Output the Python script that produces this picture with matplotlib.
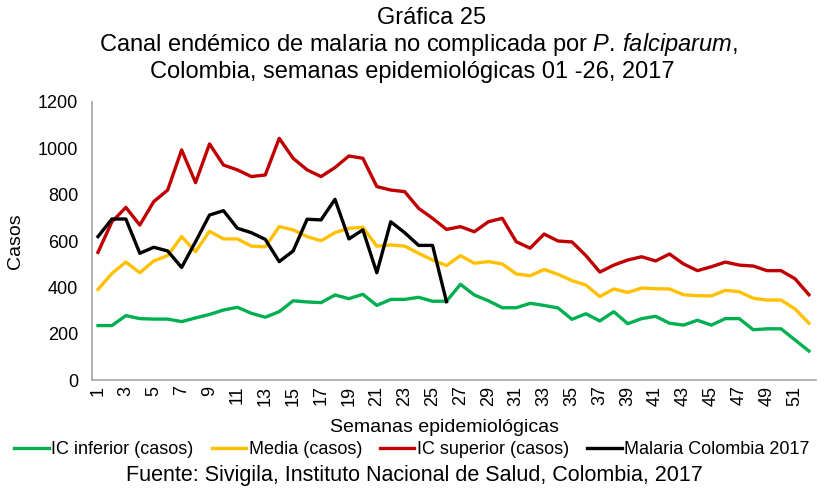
import numpy as np
import matplotlib.pyplot as plt

plt.rcParams['font.family'] = ['Liberation Sans', 'DejaVu Sans']
plt.rcParams['mathtext.fontset'] = 'custom'
plt.rcParams['mathtext.rm'] = 'Liberation Sans'
plt.rcParams['mathtext.it'] = 'Liberation Sans:italic'

semanas = np.arange(1, 53)

ic_inferior = [235, 235, 278, 265, 263, 263, 252, 268, 283, 302, 314, 288, 271, 295, 342, 337, 334,
               367, 351, 370, 322, 348, 348, 357, 340, 340, 413, 367, 342, 312, 312, 331, 322,
               311, 262, 286, 255, 295, 243, 265, 275, 245, 237, 258, 237, 265, 265, 217, 221,
               221, 173, 125]
media = [391, 460, 509, 463, 514, 537, 619, 554, 642, 609, 609, 578, 575, 662, 648, 619, 601,
         636, 655, 659, 578, 583, 578, 547, 518, 494, 537, 504, 511, 501, 458, 450, 477,
         456, 429, 410, 360, 393, 378, 397, 394, 393, 368, 364, 363, 387, 381, 353, 345,
         345, 307, 245]
ic_superior = [551, 683, 745, 669, 770, 820, 993, 852, 1019, 928, 907, 878, 885, 1043, 957, 907, 878,
               917, 967, 957, 835, 820, 813, 741, 698, 650, 662, 640, 683, 698, 597, 569, 630,
               600, 596, 537, 466, 496, 518, 532, 514, 544, 501, 472, 489, 509, 496, 492, 472,
               472, 437, 368]
malaria_2017 = [619, 695, 695, 547, 573, 557, 486, 597, 712, 731, 655, 636, 607, 511, 557, 694, 691,
                780, 609, 648, 463, 683, 636, 581, 581, 338]

fig = plt.figure(figsize=(8.25, 4.92), dpi=100)
ax = fig.add_axes([0.1115, 0.2276, 0.8775, 0.5651])

lw = 2.4
ax.plot(semanas, ic_inferior, color='#00b050', lw=lw, label='IC inferior (casos)')
ax.plot(semanas, media, color='#ffc000', lw=lw, label='Media (casos)')
ax.plot(semanas, ic_superior, color='#c00000', lw=lw, label='IC superior (casos)')
ax.plot(semanas[:len(malaria_2017)], malaria_2017, color='black', lw=lw, label='Malaria Colombia 2017')

ax.set_xlim(0.57, 52.5)
ax.set_ylim(0, 1200)
ax.set_yticks(range(0, 1201, 200))
ax.set_xticks(range(1, 53, 2))
ax.tick_params(axis='x', labelrotation=90, length=0, labelsize=13, pad=4)
ax.tick_params(axis='y', length=0, labelsize=13, pad=10)
for s in ['top', 'right']:
    ax.spines[s].set_visible(False)
for s in ['left', 'bottom']:
    ax.spines[s].set_color('#a6a6a6')
    ax.spines[s].set_linewidth(1.2)

ax.set_ylabel('Casos', fontsize=14, labelpad=10)
fig.text(445 / 825, 1 - 428 / 492, 'Semanas epidemiológicas', ha='center', va='center', fontsize=14)

fig.text(432 / 825, 1 - 18 / 492, 'Gráfica 25', ha='center', va='center', fontsize=17)
fig.text(418 / 825, 1 - 45 / 492, 'Canal endémico de malaria no complicada por $\\it{P.\\,falciparum}$,',
         ha='center', va='center', fontsize=17)
fig.text(412 / 825, 1 - 72 / 492, 'Colombia, semanas epidemiológicas 01 -26, 2017',
         ha='center', va='center', fontsize=17)

fig.legend(loc='center', bbox_to_anchor=(412 / 825, 1 - 450 / 492), ncol=4, frameon=False,
           fontsize=13, handlelength=1.9, handletextpad=0.15, columnspacing=1.0)

fig.text(414 / 825, 1 - 476 / 492, 'Fuente: Sivigila, Instituto Nacional de Salud, Colombia, 2017',
         ha='center', va='center', fontsize=15.5)

fig.savefig('out.png', dpi=100)
